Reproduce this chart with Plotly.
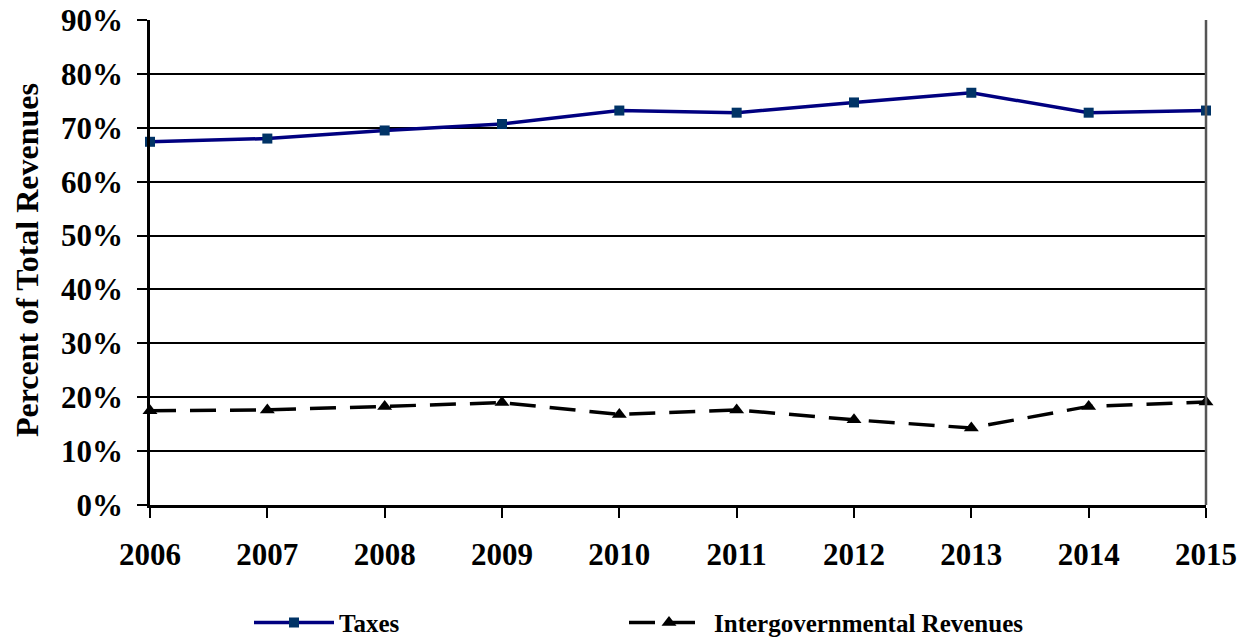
import plotly.graph_objects as go

years = [2006, 2007, 2008, 2009, 2010, 2011, 2012, 2013, 2014, 2015]
taxes = [67.4, 68.0, 69.5, 70.7, 73.2, 72.8, 74.7, 76.5, 72.8, 73.2]
intergov = [17.5, 17.65, 18.3, 19.0, 16.8, 17.65, 15.8, 14.3, 18.3, 19.1]
y_ticks = [0, 10, 20, 30, 40, 50, 60, 70, 80, 90]
y_labels = [f"{v}%" for v in y_ticks]
x_labels = [str(y) for y in years]

FONT = "Liberation Serif, Times New Roman, serif"

fig = go.Figure()
fig.add_trace(go.Scatter(
    x=years, y=taxes, name="Taxes", mode="lines+markers",
    line=dict(color="#000080", width=3.5),
    marker=dict(symbol="square", size=10, color="#003366"),
    cliponaxis=False, legend="legend",
))
fig.add_trace(go.Scatter(
    x=years, y=intergov, name="Intergovernmental Revenues", mode="lines+markers",
    line=dict(color="black", width=3.5, dash="26px,14px"),
    marker=dict(symbol="triangle-up", size=13, color="black"),
    cliponaxis=False, legend="legend2",
))

leg_common = dict(
    orientation="h", y=-0.243, xanchor="left", yanchor="middle",
    font=dict(family=FONT, size=25, weight="bold"),
    itemwidth=80, bgcolor="rgba(0,0,0,0)",
)

fig.update_layout(
    width=1248, height=641,
    margin=dict(l=150, r=42, t=20, b=136, autoexpand=False),
    paper_bgcolor="white", plot_bgcolor="white",
    font=dict(family=FONT, color="black", size=28, weight="bold"),
    showlegend=True,
    legend=dict(x=(249 - 150) / 1056, **leg_common),
    legend2=dict(x=(624 - 150) / 1056, **leg_common),
    xaxis=dict(
        range=[2006, 2015], tickvals=years, ticktext=x_labels,
        showgrid=False, zeroline=False, automargin=False,
        showline=True, linecolor="black", linewidth=2.5, mirror=False,
        ticks="outside", ticklen=10, tickwidth=2, tickcolor="black",
        tickfont=dict(family=FONT, size=31, weight="bold"),
        ticklabelstandoff=10,
    ),
    yaxis=dict(
        range=[0, 90], tickvals=y_ticks, ticktext=y_labels,
        showgrid=True, gridcolor="black", gridwidth=1.5, zeroline=False,
        automargin=False,
        showline=True, linecolor="black", linewidth=2.5, mirror=False,
        ticks="outside", ticklen=10, tickwidth=2, tickcolor="black",
        tickfont=dict(family=FONT, size=31, weight="bold"),
        ticklabelstandoff=8,
    ),
    annotations=[dict(
        text="Percent of Total Revenues", textangle=-90,
        xref="paper", yref="paper", x=(27 - 150) / 1056, y=(507 - 262) / 485,
        xanchor="center", yanchor="middle", showarrow=False,
        font=dict(family=FONT, size=32, weight="bold"),
    )],
    shapes=[dict(type="line", xref="paper", yref="paper", x0=1, x1=1, y0=0, y1=1,
                 line=dict(color="#555555", width=2.5))],
)

fig.write_html(
    "out.html",
    config={"displayModeBar": False},
    post_script="document.body.style.margin='0';document.body.style.overflow='hidden';",
)
